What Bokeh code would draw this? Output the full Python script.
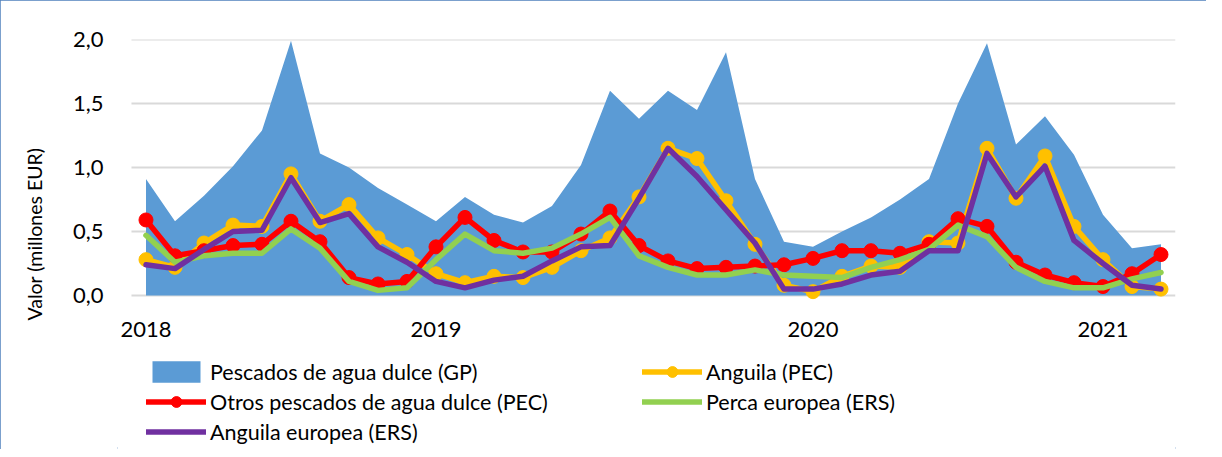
import math
from bokeh.plotting import figure
from bokeh.models import (ColumnDataSource, Legend, LegendItem, FixedTicker,
                          Title, Range1d, LinearAxis)
from bokeh.embed import file_html
from bokeh.resources import INLINE

# ---- data (monthly points, 36 periods) ----
periodo = list(range(36))
gp_pescados_agua_dulce = [0.91, 0.58, 0.78, 1.01, 1.29, 1.99, 1.11, 1.00, 0.84, 0.71,
                          0.58, 0.77, 0.63, 0.57, 0.70, 1.02, 1.60, 1.38, 1.60, 1.45,
                          1.90, 0.91, 0.42, 0.38, 0.50, 0.61, 0.75, 0.91, 1.50, 1.97,
                          1.18, 1.40, 1.10, 0.63, 0.37, 0.40]
anguila_pec = [0.28, 0.22, 0.41, 0.55, 0.54, 0.95, 0.58, 0.71, 0.45, 0.32,
               0.17, 0.10, 0.15, 0.14, 0.22, 0.35, 0.45, 0.77, 1.15, 1.07,
               0.74, 0.40, 0.08, 0.03, 0.15, 0.23, 0.22, 0.42, 0.41, 1.15,
               0.76, 1.09, 0.54, 0.28, 0.07, 0.05]
otros_pec = [0.59, 0.31, 0.35, 0.39, 0.40, 0.58, 0.42, 0.14, 0.09, 0.11,
             0.38, 0.61, 0.43, 0.34, 0.34, 0.48, 0.66, 0.39, 0.27, 0.21,
             0.22, 0.23, 0.24, 0.29, 0.35, 0.35, 0.33, 0.40, 0.60, 0.54,
             0.26, 0.16, 0.10, 0.07, 0.17, 0.32]
perca_ers = [0.47, 0.26, 0.31, 0.33, 0.33, 0.52, 0.37, 0.11, 0.04, 0.06,
             0.28, 0.48, 0.35, 0.33, 0.37, 0.48, 0.61, 0.31, 0.22, 0.16,
             0.16, 0.20, 0.16, 0.15, 0.14, 0.22, 0.28, 0.36, 0.55, 0.46,
             0.22, 0.11, 0.06, 0.06, 0.13, 0.18]
anguila_europea_ers = [0.24, 0.21, 0.36, 0.50, 0.51, 0.92, 0.57, 0.64, 0.38, 0.26,
                       0.11, 0.06, 0.12, 0.15, 0.27, 0.38, 0.39, 0.76, 1.15, 0.93,
                       0.67, 0.41, 0.05, 0.05, 0.09, 0.16, 0.19, 0.35, 0.35, 1.11,
                       0.77, 1.01, 0.43, 0.25, 0.08, 0.05]

x_tick_pos = [0, 10, 23, 33]
x_tick_labels = ["2018", "2019", "2020", "2021"]
y_tick_pos = [0.0, 0.5, 1.0, 1.5, 2.0]
y_tick_labels = ["0,0", "0,5", "1,0", "1,5", "2,0"]

FONT = "Lato"

# ---- layout ----
FIG_W, FIG_H = 1206, 449
TOP = 39                      # frame top = the 2,0 gridline
RIGHT = 31
CAT_PX = 1045 / 36.0          # width of one category slot
LEFT_PAD_PX = 14              # room inside the frame for the first year label
LEFT = 116
FRAME_H = FIG_H - TOP
PX_PER_UNIT = 128.0
Y_END = 2.0
Y_START = Y_END - FRAME_H / PX_PER_UNIT
X_LO = periodo[0] - 0.5
X_HI = periodo[-1] + 0.5
X_START = X_LO - LEFT_PAD_PX / CAT_PX

src = ColumnDataSource(dict(x=periodo, gp=gp_pescados_agua_dulce, ang=anguila_pec,
                            otros=otros_pec, perca=perca_ers, angeu=anguila_europea_ers))

p = figure(width=FIG_W, height=FIG_H, output_backend="svg", toolbar_location=None,
           x_range=Range1d(X_START, X_HI), y_range=Range1d(Y_START, Y_END),
           x_axis_location=None,
           min_border_left=LEFT, min_border_right=RIGHT, min_border_top=TOP,
           min_border_bottom=0)
p.outline_line_color = None
p.styles = {"outline": "2px solid #4F81BD", "outline-offset": "-2px"}

xax = LinearAxis(fixed_location=0, ticker=FixedTicker(ticks=x_tick_pos),
                 major_label_overrides=dict(zip(x_tick_pos, x_tick_labels)))
p.add_layout(xax, "below")

p.yaxis.ticker = FixedTicker(ticks=y_tick_pos)
p.yaxis.major_label_overrides = dict(zip(y_tick_pos, y_tick_labels))
for ax in (xax, p.yaxis[0]):
    ax.axis_line_color = None
    ax.major_tick_line_color = None
    ax.minor_tick_line_color = None
    ax.major_label_text_font = FONT
    ax.major_label_text_font_size = "22px"
    ax.major_label_text_color = "#000000"
xax.major_label_standoff = 20
p.yaxis.major_label_standoff = 8
p.xgrid.grid_line_color = None
p.ygrid.grid_line_color = None

# horizontal gridlines spanning only the category slots
p.segment(x0=[X_LO] * len(y_tick_pos), x1=[X_HI] * len(y_tick_pos),
          y0=y_tick_pos, y1=y_tick_pos, line_color="#d9d9d9", line_width=2)

# glyphs
LW = 5.5
area = p.varea(x="x", y1=0, y2="gp", source=src, fill_color="#5B9BD5")
yl = p.line("x", "ang", source=src, line_color="#FFC000", line_width=LW,
            line_join="round", line_cap="round")
ys = p.scatter("x", "ang", source=src, size=14, fill_color="#FFC000",
               line_color="#FFC000")
rl = p.line("x", "otros", source=src, line_color="#FF0000", line_width=LW,
            line_join="round", line_cap="round")
rs = p.scatter("x", "otros", source=src, size=14, fill_color="#FF0000",
               line_color="#FF0000")
gl = p.line("x", "perca", source=src, line_color="#92D050", line_width=LW,
            line_join="round", line_cap="round")
pl = p.line("x", "angeu", source=src, line_color="#7030A0", line_width=LW,
            line_join="round", line_cap="round")

legend = Legend(items=[
    LegendItem(label="Pescados de agua dulce (GP)", renderers=[area]),
    LegendItem(label="Anguila (PEC)", renderers=[yl, ys]),
    LegendItem(label="Otros pescados de agua dulce (PEC)", renderers=[rl, rs]),
    LegendItem(label="Perca europea (ERS)", renderers=[gl]),
    LegendItem(label="Anguila europea (ERS)", renderers=[pl]),
], orientation="horizontal", ncols=2, location=(29, 4))
legend.glyph_width = 60
legend.glyph_height = 27
legend.label_height = 27
legend.label_width = 429
legend.label_standoff = 4
legend.spacing = 3
legend.padding = 2
legend.margin = 0
legend.label_text_font = FONT
legend.label_text_font_size = "21.5px"
legend.label_text_color = "#000000"
legend.background_fill_alpha = 0
legend.border_line_color = None
p.add_layout(legend)

ytitle = Title(text="Valor (millones EUR)", align="left", offset=129,
               standoff=44, vertical_align="top", text_font=FONT,
               text_font_size="19.5px", text_font_style="normal",
               text_color="#000000")
p.add_layout(ytitle, "left")

open("out.html", "w").write(file_html(p, INLINE))
